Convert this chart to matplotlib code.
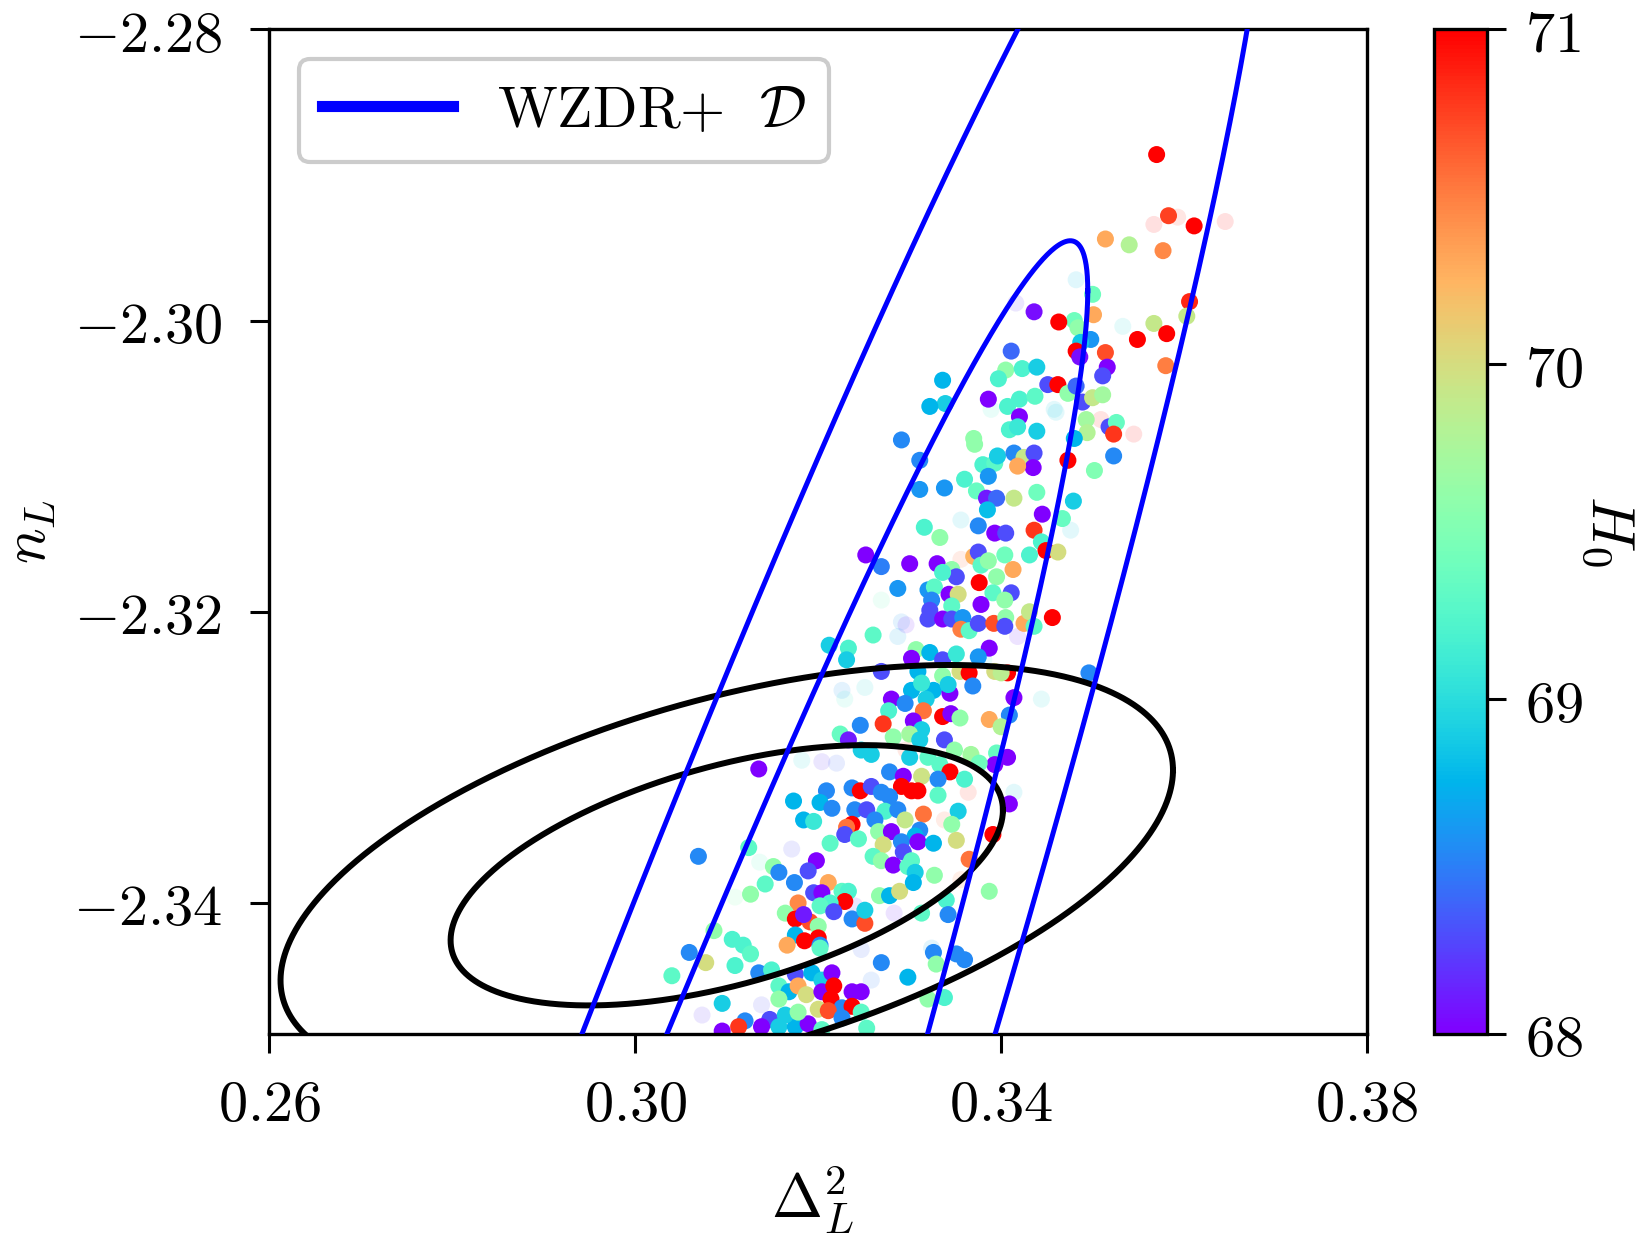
import numpy as np
import matplotlib
matplotlib.use("Agg")
import matplotlib.pyplot as plt
from matplotlib.lines import Line2D
from matplotlib.ticker import FuncFormatter

plt.rcParams["mathtext.fontset"] = "cm"

# ---------------------------------------------------------------------------
# MCMC samples: amplitude Delta_L^2, slope n_L, coloured by H0
# ---------------------------------------------------------------------------
delta_L2 = [
    0.3570, 0.3583, 0.3611, 0.3514, 0.3540, 0.3577, 0.3606, 0.3603, 0.3567, 0.3581,
    0.3549, 0.3580, 0.3500, 0.3501, 0.3480, 0.3484, 0.3436, 0.3463, 0.3498, 0.3487,
    0.3482, 0.3486, 0.3514, 0.3516, 0.3511, 0.3411, 0.3405, 0.3423, 0.3439, 0.3397,
    0.3336, 0.3339, 0.3451, 0.3462, 0.3473, 0.3482, 0.3489, 0.3500, 0.3511, 0.3386,
    0.3407, 0.3420, 0.3437, 0.3420, 0.3493, 0.3518, 0.3526, 0.3523, 0.3409, 0.3418,
    0.3439, 0.3370, 0.3494, 0.3480, 0.3322, 0.3291, 0.3371, 0.3311, 0.3380, 0.3393,
    0.3396, 0.3414, 0.3425, 0.3436, 0.3435, 0.3418, 0.3386, 0.3360, 0.3473, 0.3502,
    0.3523, 0.3338, 0.3311, 0.3373, 0.3414, 0.3439, 0.3384, 0.3395, 0.3385, 0.3479,
    0.3445, 0.3467, 0.3316, 0.3333, 0.3375, 0.3393, 0.3405, 0.3436, 0.3444, 0.3449,
    0.3462, 0.3252, 0.3269, 0.3300, 0.3330, 0.3370, 0.3375, 0.3378, 0.3386, 0.3404,
    0.3431, 0.3413, 0.3346, 0.3351, 0.3336, 0.3376, 0.3395, 0.3287, 0.3320, 0.3327,
    0.3324, 0.3343, 0.3353, 0.3346, 0.3391, 0.3411, 0.3404, 0.3378, 0.3322, 0.3320,
    0.3336, 0.3346, 0.3358, 0.3356, 0.3365, 0.3375, 0.3392, 0.3405, 0.3404, 0.3425,
    0.3431, 0.3436, 0.3456, 0.3260, 0.3387, 0.3375, 0.3307, 0.3322, 0.3302, 0.3336,
    0.3351, 0.3496, 0.3212, 0.3233, 0.3231, 0.3269, 0.3309, 0.3336, 0.3355, 0.3365,
    0.3393, 0.3407, 0.3400, 0.3369, 0.3326, 0.3302, 0.3313, 0.3344, 0.3342, 0.3280,
    0.3295, 0.3318, 0.3277, 0.3315, 0.3336, 0.3345, 0.3355, 0.3387, 0.3414, 0.3409,
    0.3400, 0.3246, 0.3271, 0.3304, 0.3313, 0.3224, 0.3233, 0.3282, 0.3300, 0.3311,
    0.3338, 0.3349, 0.3367, 0.3395, 0.3407, 0.3393, 0.3376, 0.3247, 0.3258, 0.3300,
    0.3320, 0.3333, 0.3344, 0.3135, 0.3278, 0.3293, 0.3313, 0.3331, 0.3360, 0.3409,
    0.3209, 0.3237, 0.3246, 0.3258, 0.3269, 0.3291, 0.3302, 0.3309, 0.3278, 0.3331,
    0.3173, 0.3202, 0.3215, 0.3240, 0.3253, 0.3273, 0.3287, 0.3315, 0.3353, 0.3184,
    0.3195, 0.3262, 0.3295, 0.3237, 0.3231, 0.3346, 0.3229, 0.3244, 0.3266, 0.3280,
    0.3311, 0.3306, 0.3391, 0.3213, 0.3271, 0.3291, 0.3309, 0.3326, 0.3351, 0.3124,
    0.3293, 0.3260, 0.3269, 0.3198, 0.3302, 0.3365, 0.3069, 0.3151, 0.3157, 0.3189,
    0.3142, 0.3126, 0.3174, 0.3211, 0.3195, 0.3204, 0.3226, 0.3233, 0.3229, 0.3213,
    0.3202, 0.3217, 0.3178, 0.3164, 0.3175, 0.3191, 0.3184, 0.3200, 0.3175, 0.3185,
    0.3200, 0.3202, 0.3202, 0.3166, 0.3237, 0.3251, 0.3251, 0.3267, 0.3278, 0.3289,
    0.3282, 0.3298, 0.3306, 0.3304, 0.3327, 0.3387, 0.3340, 0.3342, 0.3313, 0.3059,
    0.3077, 0.3040, 0.3086, 0.3106, 0.3118, 0.3126, 0.3109, 0.3095, 0.3135, 0.3149,
    0.3157, 0.3168, 0.3175, 0.3178, 0.3187, 0.3193, 0.3204, 0.3204, 0.3215, 0.3217,
    0.3214, 0.3237, 0.3247, 0.3226, 0.3237, 0.3247, 0.3200, 0.3211, 0.3226, 0.3120,
    0.3113, 0.3147, 0.3138, 0.3157, 0.3175, 0.3189, 0.3164, 0.3178, 0.3095, 0.3253,
    0.3204, 0.3157, 0.3269, 0.3298, 0.3326, 0.3329, 0.3351, 0.3360, 0.3338, 0.3320,
]

n_L = [
    -2.2886, -2.2928, -2.2935, -2.2944, -2.2948, -2.2952, -2.2987, -2.2997, -2.3002, -2.3009,
    -2.3013, -2.3031, -2.2982, -2.2996, -2.3000, -2.3005, -2.2994, -2.3001, -2.3013, -2.3015,
    -2.3021, -2.3025, -2.3022, -2.3032, -2.3038, -2.3021, -2.3034, -2.3033, -2.3032, -2.3040,
    -2.3041, -2.3057, -2.3044, -2.3044, -2.3050, -2.3045, -2.3056, -2.3053, -2.3051, -2.3054,
    -2.3059, -2.3054, -2.3052, -2.3066, -2.3068, -2.3073, -2.3070, -2.3078, -2.3075, -2.3073,
    -2.3076, -2.3081, -2.3077, -2.3081, -2.3059, -2.3082, -2.3085, -2.3096, -2.3099, -2.3098,
    -2.3093, -2.3091, -2.3094, -2.3091, -2.3101, -2.3100, -2.3107, -2.3109, -2.3096, -2.3103,
    -2.3093, -2.3115, -2.3116, -2.3117, -2.3122, -2.3118, -2.3122, -2.3122, -2.3130, -2.3124,
    -2.3133, -2.3136, -2.3142, -2.3149, -2.3141, -2.3146, -2.3146, -2.3144, -2.3152, -2.3158,
    -2.3159, -2.3161, -2.3169, -2.3167, -2.3167, -2.3162, -2.3159, -2.3168, -2.3165, -2.3161,
    -2.3161, -2.3171, -2.3171, -2.3176, -2.3173, -2.3180, -2.3176, -2.3184, -2.3185, -2.3183,
    -2.3192, -2.3188, -2.3188, -2.3196, -2.3187, -2.3187, -2.3192, -2.3195, -2.3199, -2.3205,
    -2.3205, -2.3205, -2.3204, -2.3212, -2.3213, -2.3208, -2.3208, -2.3204, -2.3210, -2.3208,
    -2.3200, -2.3210, -2.3204, -2.3216, -2.3225, -2.3231, -2.3226, -2.3228, -2.3232, -2.3233,
    -2.3229, -2.3242, -2.3223, -2.3225, -2.3233, -2.3241, -2.3241, -2.3244, -2.3241, -2.3242,
    -2.3241, -2.3242, -2.3242, -2.3251, -2.3254, -2.3254, -2.3249, -2.3256, -2.3250, -2.3260,
    -2.3263, -2.3260, -2.3268, -2.3268, -2.3272, -2.3270, -2.3273, -2.3274, -2.3259, -2.3271,
    -2.3279, -2.3278, -2.3277, -2.3275, -2.3281, -2.3284, -2.3288, -2.3286, -2.3284, -2.3288,
    -2.3288, -2.3295, -2.3298, -2.3297, -2.3300, -2.3305, -2.3304, -2.3295, -2.3298, -2.3300,
    -2.3300, -2.3305, -2.3310, -2.3308, -2.3310, -2.3313, -2.3313, -2.3315, -2.3315, -2.3332,
    -2.3323, -2.3321, -2.3323, -2.3320, -2.3324, -2.3320, -2.3323, -2.3323, -2.3327, -2.3326,
    -2.3330, -2.3331, -2.3335, -2.3336, -2.3336, -2.3337, -2.3336, -2.3339, -2.3337, -2.3343,
    -2.3344, -2.3343, -2.3343, -2.3346, -2.3348, -2.3346, -2.3353, -2.3356, -2.3351, -2.3351,
    -2.3350, -2.3354, -2.3353, -2.3359, -2.3360, -2.3358, -2.3358, -2.3359, -2.3357, -2.3362,
    -2.3365, -2.3368, -2.3371, -2.3371, -2.3371, -2.3370, -2.3368, -2.3375, -2.3379, -2.3378,
    -2.3387, -2.3394, -2.3386, -2.3386, -2.3393, -2.3393, -2.3392, -2.3392, -2.3399, -2.3400,
    -2.3402, -2.3406, -2.3400, -2.3407, -2.3411, -2.3413, -2.3408, -2.3416, -2.3422, -2.3426,
    -2.3424, -2.3429, -2.3431, -2.3429, -2.3411, -2.3414, -2.3405, -2.3395, -2.3395, -2.3392,
    -2.3374, -2.3375, -2.3379, -2.3386, -2.3381, -2.3392, -2.3398, -2.3408, -2.3407, -2.3434,
    -2.3441, -2.3450, -2.3419, -2.3425, -2.3429, -2.3435, -2.3443, -2.3469, -2.3448, -2.3446,
    -2.3457, -2.3461, -2.3449, -2.3457, -2.3463, -2.3448, -2.3453, -2.3461, -2.3448, -2.3457,
    -2.3466, -2.3461, -2.3461, -2.3472, -2.3471, -2.3475, -2.3473, -2.3474, -2.3479, -2.3481,
    -2.3485, -2.3480, -2.3485, -2.3485, -2.3485, -2.3483, -2.3477, -2.3475, -2.3488, -2.3486,
    -2.3487, -2.3466, -2.3441, -2.3451, -2.3434, -2.3442, -2.3435, -2.3439, -2.3465, -2.3466,
]

H0 = [
    71.0, 70.75, 71.0, 70.3, 69.8, 70.45, 70.85, 69.9, 69.9, 71.0,
    71.0, 70.5, 69.4, 70.3, 69.4, 69.6, 68.05, 71.0, 68.6, 68.85,
    71.0, 68.05, 70.7, 68.0, 68.3, 68.4, 69.6, 69.2, 68.9, 69.2,
    68.75, 68.9, 68.3, 71.0, 69.6, 68.4, 68.3, 69.9, 69.7, 68.0,
    69.2, 69.2, 69.3, 68.0, 69.7, 68.3, 69.35, 70.8, 69.2, 69.1,
    68.9, 69.6, 69.8, 68.75, 68.75, 68.55, 69.6, 68.55, 69.2, 69.3,
    68.9, 68.55, 69.9, 68.3, 68.0, 70.3, 68.6, 69.2, 71.0, 69.5,
    68.55, 68.6, 68.6, 69.35, 69.9, 69.4, 68.1, 68.4, 68.8, 68.9,
    68.0, 69.35, 69.2, 69.6, 68.55, 68.0, 68.3, 70.8, 69.2, 71.0,
    70.0, 68.0, 68.5, 68.0, 68.0, 70.25, 68.3, 69.3, 69.6, 69.4,
    69.2, 70.3, 69.6, 68.3, 69.2, 71.0, 69.6, 68.6, 68.6, 69.3,
    68.55, 68.0, 70.0, 69.3, 69.3, 68.3, 69.6, 68.0, 68.3, 68.3,
    68.0, 68.3, 68.6, 70.5, 69.3, 68.3, 70.7, 69.6, 68.3, 70.3,
    69.9, 69.3, 71.0, 69.3, 68.0, 68.6, 69.6, 68.75, 68.0, 68.3,
    69.1, 68.55, 68.9, 69.2, 68.9, 68.3, 68.75, 69.6, 70.0, 71.0,
    70.0, 71.0, 69.85, 68.55, 68.75, 68.75, 69.1, 68.0, 68.9, 68.0,
    68.55, 68.9, 69.2, 70.55, 71.0, 68.0, 69.6, 70.3, 68.0, 68.55,
    69.8, 68.55, 70.8, 68.0, 68.9, 69.35, 68.1, 69.6, 69.7, 68.9,
    68.3, 69.6, 69.7, 69.35, 68.0, 68.0, 69.4, 68.9, 68.9, 68.9,
    69.3, 69.3, 71.0, 68.0, 68.55, 68.0, 69.95, 68.55, 69.2, 68.0,
    68.55, 68.55, 71.0, 68.3, 68.55, 71.0, 71.0, 71.0, 68.55, 69.3,
    68.75, 68.75, 68.55, 68.55, 68.3, 69.2, 68.55, 70.55, 68.9, 68.75,
    69.1, 68.55, 69.9, 71.0, 70.55, 69.6, 68.3, 69.3, 69.6, 68.0,
    68.55, 68.75, 71.0, 69.3, 70.0, 68.55, 68.0, 68.75, 70.0, 69.3,
    68.3, 69.3, 69.6, 68.0, 69.3, 70.55, 68.55, 69.6, 68.55, 68.3,
    69.3, 69.6, 68.55, 70.3, 68.3, 68.0, 69.3, 69.2, 71.0, 69.2,
    69.3, 68.3, 70.45, 69.6, 71.0, 70.7, 68.1, 69.6, 68.75, 71.0,
    71.0, 68.55, 69.3, 70.3, 68.55, 70.7, 68.9, 69.6, 68.75, 70.0,
    68.0, 69.3, 68.9, 68.75, 69.6, 69.6, 69.2, 68.55, 69.3, 68.55,
    70.0, 69.3, 69.6, 69.2, 69.2, 69.3, 69.2, 68.9, 68.55, 69.2,
    69.3, 68.75, 68.3, 70.3, 70.0, 68.75, 68.9, 68.0, 68.0, 71.0,
    71.0, 68.0, 68.0, 68.55, 71.0, 69.3, 70.0, 70.7, 68.55, 68.55,
    70.8, 68.3, 68.0, 68.9, 68.75, 68.0, 68.9, 69.6, 68.0, 69.3,
    69.3, 69.6, 68.55, 68.75, 68.55, 69.6, 68.55, 68.55, 69.2, 69.6,
]

# low-weight samples, drawn nearly transparent
faint_delta_L2 = [
    0.3645, 0.3567, 0.3593, 0.3482, 0.3416, 0.3533, 0.3458, 0.3545, 0.3418, 0.3291,
    0.3287, 0.3251, 0.3204, 0.3220, 0.3229, 0.3136, 0.3338, 0.3364, 0.3414, 0.3381,
    0.3109, 0.3138, 0.3240, 0.3324, 0.3283, 0.3247, 0.3073, 0.3460, 0.3356, 0.3296,
    0.3476, 0.3509, 0.3389, 0.3356, 0.3269, 0.3226, 0.3296, 0.3182, 0.3171, 0.3258,
    0.3356, 0.3444,
]
faint_n_L = [
    -2.2932, -2.2934, -2.2929, -2.2972, -2.2988, -2.3004, -2.3061, -2.3078, -2.3217, -2.3207,
    -2.3217, -2.3252, -2.3303, -2.3304, -2.3260, -2.3372, -2.3343, -2.3324, -2.3324, -2.3233,
    -2.3396, -2.3470, -2.3402, -2.3431, -2.3407, -2.3432, -2.3477, -2.3063, -2.3164, -2.3209,
    -2.3144, -2.3068, -2.3061, -2.3137, -2.3192, -2.3254, -2.3295, -2.3302, -2.3363, -2.3453,
    -2.3384, -2.3260,
]
faint_H0 = [
    71.0, 71.0, 70.8, 68.8, 68.2, 69.0, 68.9, 71.0, 68.1, 68.6,
    68.7, 69.0, 68.2, 68.4, 69.2, 69.3, 70.6, 70.8, 68.9, 69.1,
    69.5, 68.3, 68.2, 68.7, 68.1, 68.4, 68.2, 68.9, 70.6, 68.1,
    68.9, 70.9, 69.2, 68.9, 69.4, 68.6, 70.7, 69.0, 68.3, 68.5,
    70.5, 69.0,
]

# ---------------------------------------------------------------------------
# Black contours: Gaussian constraint (mean, sigmas, correlation, sqrt chi2 levels)
# ---------------------------------------------------------------------------
ref_mean = [0.3100, -2.3381]
ref_sigma = [0.01993, 0.00590]
ref_rho = 0.50
ref_levels = [1.515, 2.448]

# Blue WZDR+ D contours (inner, outer): centre, half-extents, correlation
wzdr_x0 = [0.21909, 0.27872]
wzdr_y0 = [-2.52895, -2.41879]
wzdr_halfx = [0.13038, 0.090864]
wzdr_halfy = [0.23443, 0.16024]
wzdr_corr = [0.98535, 0.96111]

xticks = [0.26, 0.30, 0.34, 0.38]
yticks = [-2.34, -2.32, -2.30, -2.28]
cticks = [68, 69, 70, 71]


def ellipse_path(x0, y0, hx, hy, r, n=1441):
    t = np.linspace(0.0, 2.0 * np.pi, n)
    x = x0 + hx * np.cos(t)
    y = y0 + hy * (r * np.cos(t) + np.sqrt(1.0 - r * r) * np.sin(t))
    return x, y


fig = plt.figure(figsize=(16.44, 12.38), dpi=100)
ax = fig.add_axes([0.1639, 0.1648, 0.6676, 0.8115])
cax = fig.add_axes([0.8724, 0.1648, 0.0319, 0.8115])

ax.scatter(faint_delta_L2, faint_n_L, c=faint_H0, cmap="rainbow", vmin=68, vmax=71,
           s=150, edgecolors="none", alpha=0.12, zorder=2)
sc = ax.scatter(delta_L2, n_L, c=H0, cmap="rainbow", vmin=68, vmax=71,
                s=150, edgecolors="none", zorder=2)

for lev in ref_levels:
    ex, ey = ellipse_path(ref_mean[0], ref_mean[1], lev * ref_sigma[0],
                          lev * ref_sigma[1], ref_rho)
    ax.plot(ex, ey, color="black", lw=4.3, zorder=3)

for i in range(len(wzdr_x0)):
    ex, ey = ellipse_path(wzdr_x0[i], wzdr_y0[i], wzdr_halfx[i], wzdr_halfy[i], wzdr_corr[i])
    ax.plot(ex, ey, color="blue", lw=3.6, zorder=3)

ax.set_xlim(0.26, 0.38)
ax.set_ylim(-2.349, -2.28)
ax.set_xticks(xticks)
ax.set_yticks(yticks)
ax.xaxis.set_major_formatter(FuncFormatter(lambda v, p: f"${v:.2f}$"))
ax.yaxis.set_major_formatter(FuncFormatter(lambda v, p: f"${v:.2f}$"))
ax.tick_params(axis="x", direction="out", length=14, width=2.2, labelsize=42, pad=16)
ax.tick_params(axis="y", direction="out", length=14, width=2.2, labelsize=42, pad=20)
for sp in ax.spines.values():
    sp.set_linewidth(2.4)

ax.set_xlabel(r"$\Delta_L^2$", fontsize=44)
ax.xaxis.set_label_coords(0.495, -0.129)
ax.set_ylabel(r"$n_L$", fontsize=43)
ax.yaxis.set_label_coords(-0.192, 0.5)

handle = Line2D([], [], color="blue", lw=8)
leg = ax.legend([handle], [r"$\mathrm{WZDR}{+}\ \ \mathcal{D}$"], loc="upper left",
                fontsize=42, handlelength=2.25, borderpad=0.4, handletextpad=0.75,
                fancybox=True, framealpha=1.0, edgecolor="0.8", borderaxespad=0.5)
leg.get_frame().set_linewidth(3)

cb = fig.colorbar(sc, cax=cax)
cb.set_ticks(cticks)
cb.set_ticklabels([f"${v}$" for v in cticks])
cb.outline.set_linewidth(2.4)
cax.tick_params(direction="out", length=14, width=2.2, labelsize=42, pad=13.5)
cb.set_label(r"$H_0$", fontsize=44, rotation=270)
cax.yaxis.set_label_coords(3.90, 0.5)

fig.savefig("out.png", dpi=100, facecolor="white")
